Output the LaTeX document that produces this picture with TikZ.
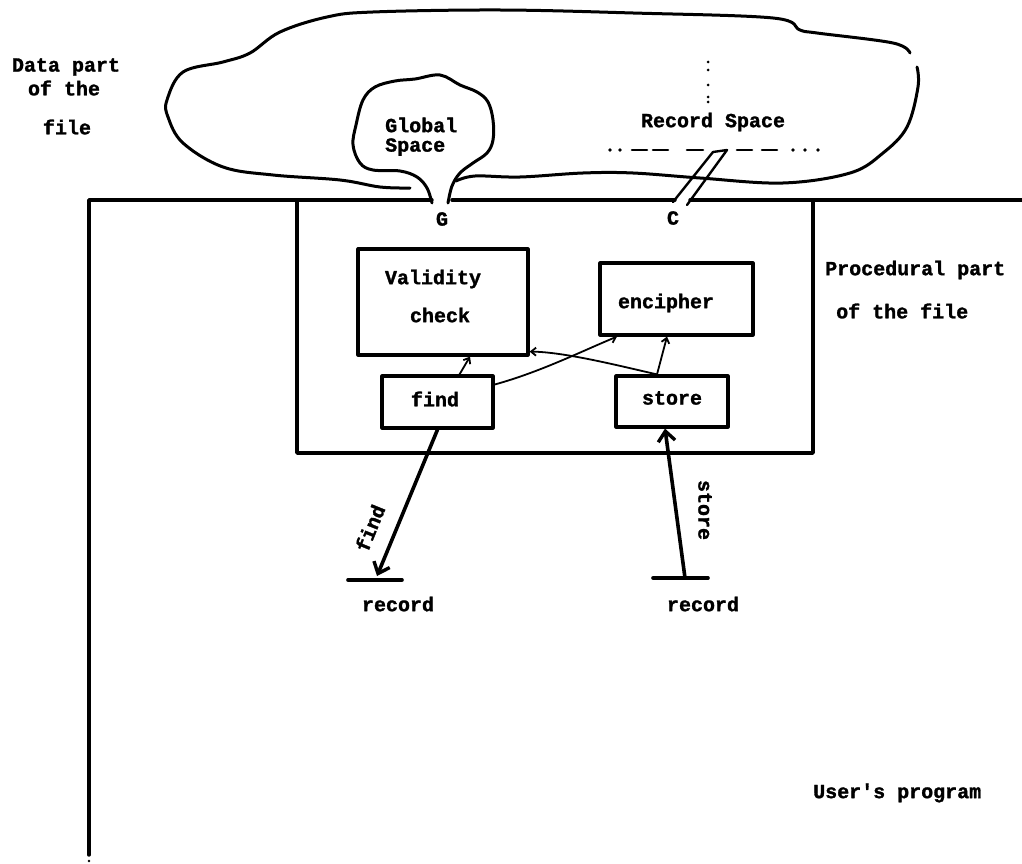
\documentclass[tikz,border=0pt]{standalone}
\usepackage{fontspec}
\newfontfamily\twfont{Liberation Mono}[BoldFeatures={FakeBold=1.5}]
\usetikzlibrary{arrows.meta,calc}
\tikzset{
  txt/.style={font=\twfont\bfseries\fontsize{20}{24}\selectfont, inner sep=0pt},
  box/.style={draw, line width=3.2pt, inner sep=0pt},
  frame/.style={line width=3.4pt},
  cloudline/.style={line width=3pt},
  small/.style={line width=1.8pt, -{Straight Barb[length=5pt,width=8pt]}},
  big/.style={line width=3.6pt, -{Straight Barb[length=10pt,width=17pt,line width=3.4pt]}},
  recbar/.style={line width=3.6pt},
  rsdash/.style={line width=2.6pt},
  slash/.style={line width=2.4pt}
}
\begin{document}
\begin{tikzpicture}[x=1pt,y=-1pt, line join=round, line cap=round]
\useasboundingbox (0,0) rectangle (1022,864);

% big cloud (data part of the file)
\draw[cloudline] plot[smooth, tension=0.6] coordinates {(410,188) (380,187) (340,180) (273,175) (223,167) (183,143) (168,117) (167,100) (183,72) (223,62) (250,53) (280,32) (327,17) (373,12) (500,10) (633,13) (773,18) (800,30) (817,33) (893,43) (910,53)};
\draw[cloudline] plot[smooth, tension=0.6] coordinates {(917,67) (918,87) (907,127) (883,153) (850,173) (783,183) (700,178) (633,173) (583,173) (520,177) (475,176) (456,181)};

% global space cloud with stem
\draw[cloudline] plot[smooth, tension=0.6] coordinates {(432,203) (427,188) (417,177) (400,171) (373,170) (360,163) (353,145) (356,125) (363,100) (375,87) (395,81) (415,79) (440,75) (460,85) (477,92) (488,102) (493,120) (493,140) (487,153) (473,163) (460,173) (452,186) (448,203)};

% record space
\foreach \x in {610,620,793,805,818} \fill (\x,150) circle (1.9);
\foreach \a/\b in {632/647,653/668,687/703,737/752,762/777} \draw[rsdash] (\a,150) -- (\b,150);
\foreach \y in {62,70,85,97,102} \fill (708,\y) circle (1.5);
\draw[slash] (673,202) -- (713,152) -- (727,150) -- (687,205);

% frames
\draw[frame] (89,855) -- (89,200) -- (432,200);
\draw[frame] (452,200) -- (675,200);
\draw[frame] (690,200) -- (1022,200);
\draw[frame] (297,200) -- (297,453) -- (813,453) -- (813,200);
\fill (89,861) circle (1.3);

% boxes
\node[box, minimum width=170pt, minimum height=106pt] (vc) at (443,302) {};
\node[txt] at (433,279) {Validity};
\node[txt] at (440,315) {check};
\node[box, minimum width=153pt, minimum height=72pt] (enc) at (676.5,299) {};
\node[txt] at (666,303) {encipher};
\node[box, minimum width=111pt, minimum height=52pt] (find) at (437.5,402) {};
\node[txt] at (435,399) {find};
\node[box, minimum width=112pt, minimum height=51pt] (store) at (672,401.5) {};
\node[txt] at (672,398) {store};

% inner connectors
\draw[small] ([xshift=22pt]find.north) -- ([xshift=27pt]vc.south);
\draw[small] (find.17) .. controls (540,372) and (580,352) .. ([xshift=-59.5pt]enc.south);
\draw[small] ([xshift=-15pt]store.north) .. controls (620,366) and (565,352) .. ([yshift=5pt]vc.south east);
\draw[small] ([xshift=-15pt]store.north) -- ([xshift=-9.5pt]enc.south);

% record arrows
\coordinate (recL) at (377,576);
\coordinate (recR) at (685,578);
\draw[big] (find.south) -- (recL);
\draw[big] (recR) -- ([xshift=-7pt]store.south);
\draw[recbar] (348,580) -- (402,580);
\draw[recbar] (653,578) -- (708,578);
\node[txt, rotate=68] at (370,528) {find};
\node[txt, rotate=-90] at (705,510) {store};
\node[txt] at (398,604) {record};
\node[txt] at (703,604) {record};

% labels
\node[txt] at (66,67) {Data part};
\node[txt] at (64,88) {of the};
\node[txt] at (67,127) {file};
\node[txt, anchor=west] at (385,125) {Global};
\node[txt, anchor=west] at (385,147) {Space};
\node[txt] at (713,122) {Record Space};
\node[txt] at (442,219) {G};
\node[txt] at (673,218) {C};
\node[txt, anchor=west] at (825,270) {Procedural part};
\node[txt, anchor=west] at (836,311) {of the file};
\node[txt, anchor=west] at (813,793) {User's program};
\end{tikzpicture}
\end{document}
